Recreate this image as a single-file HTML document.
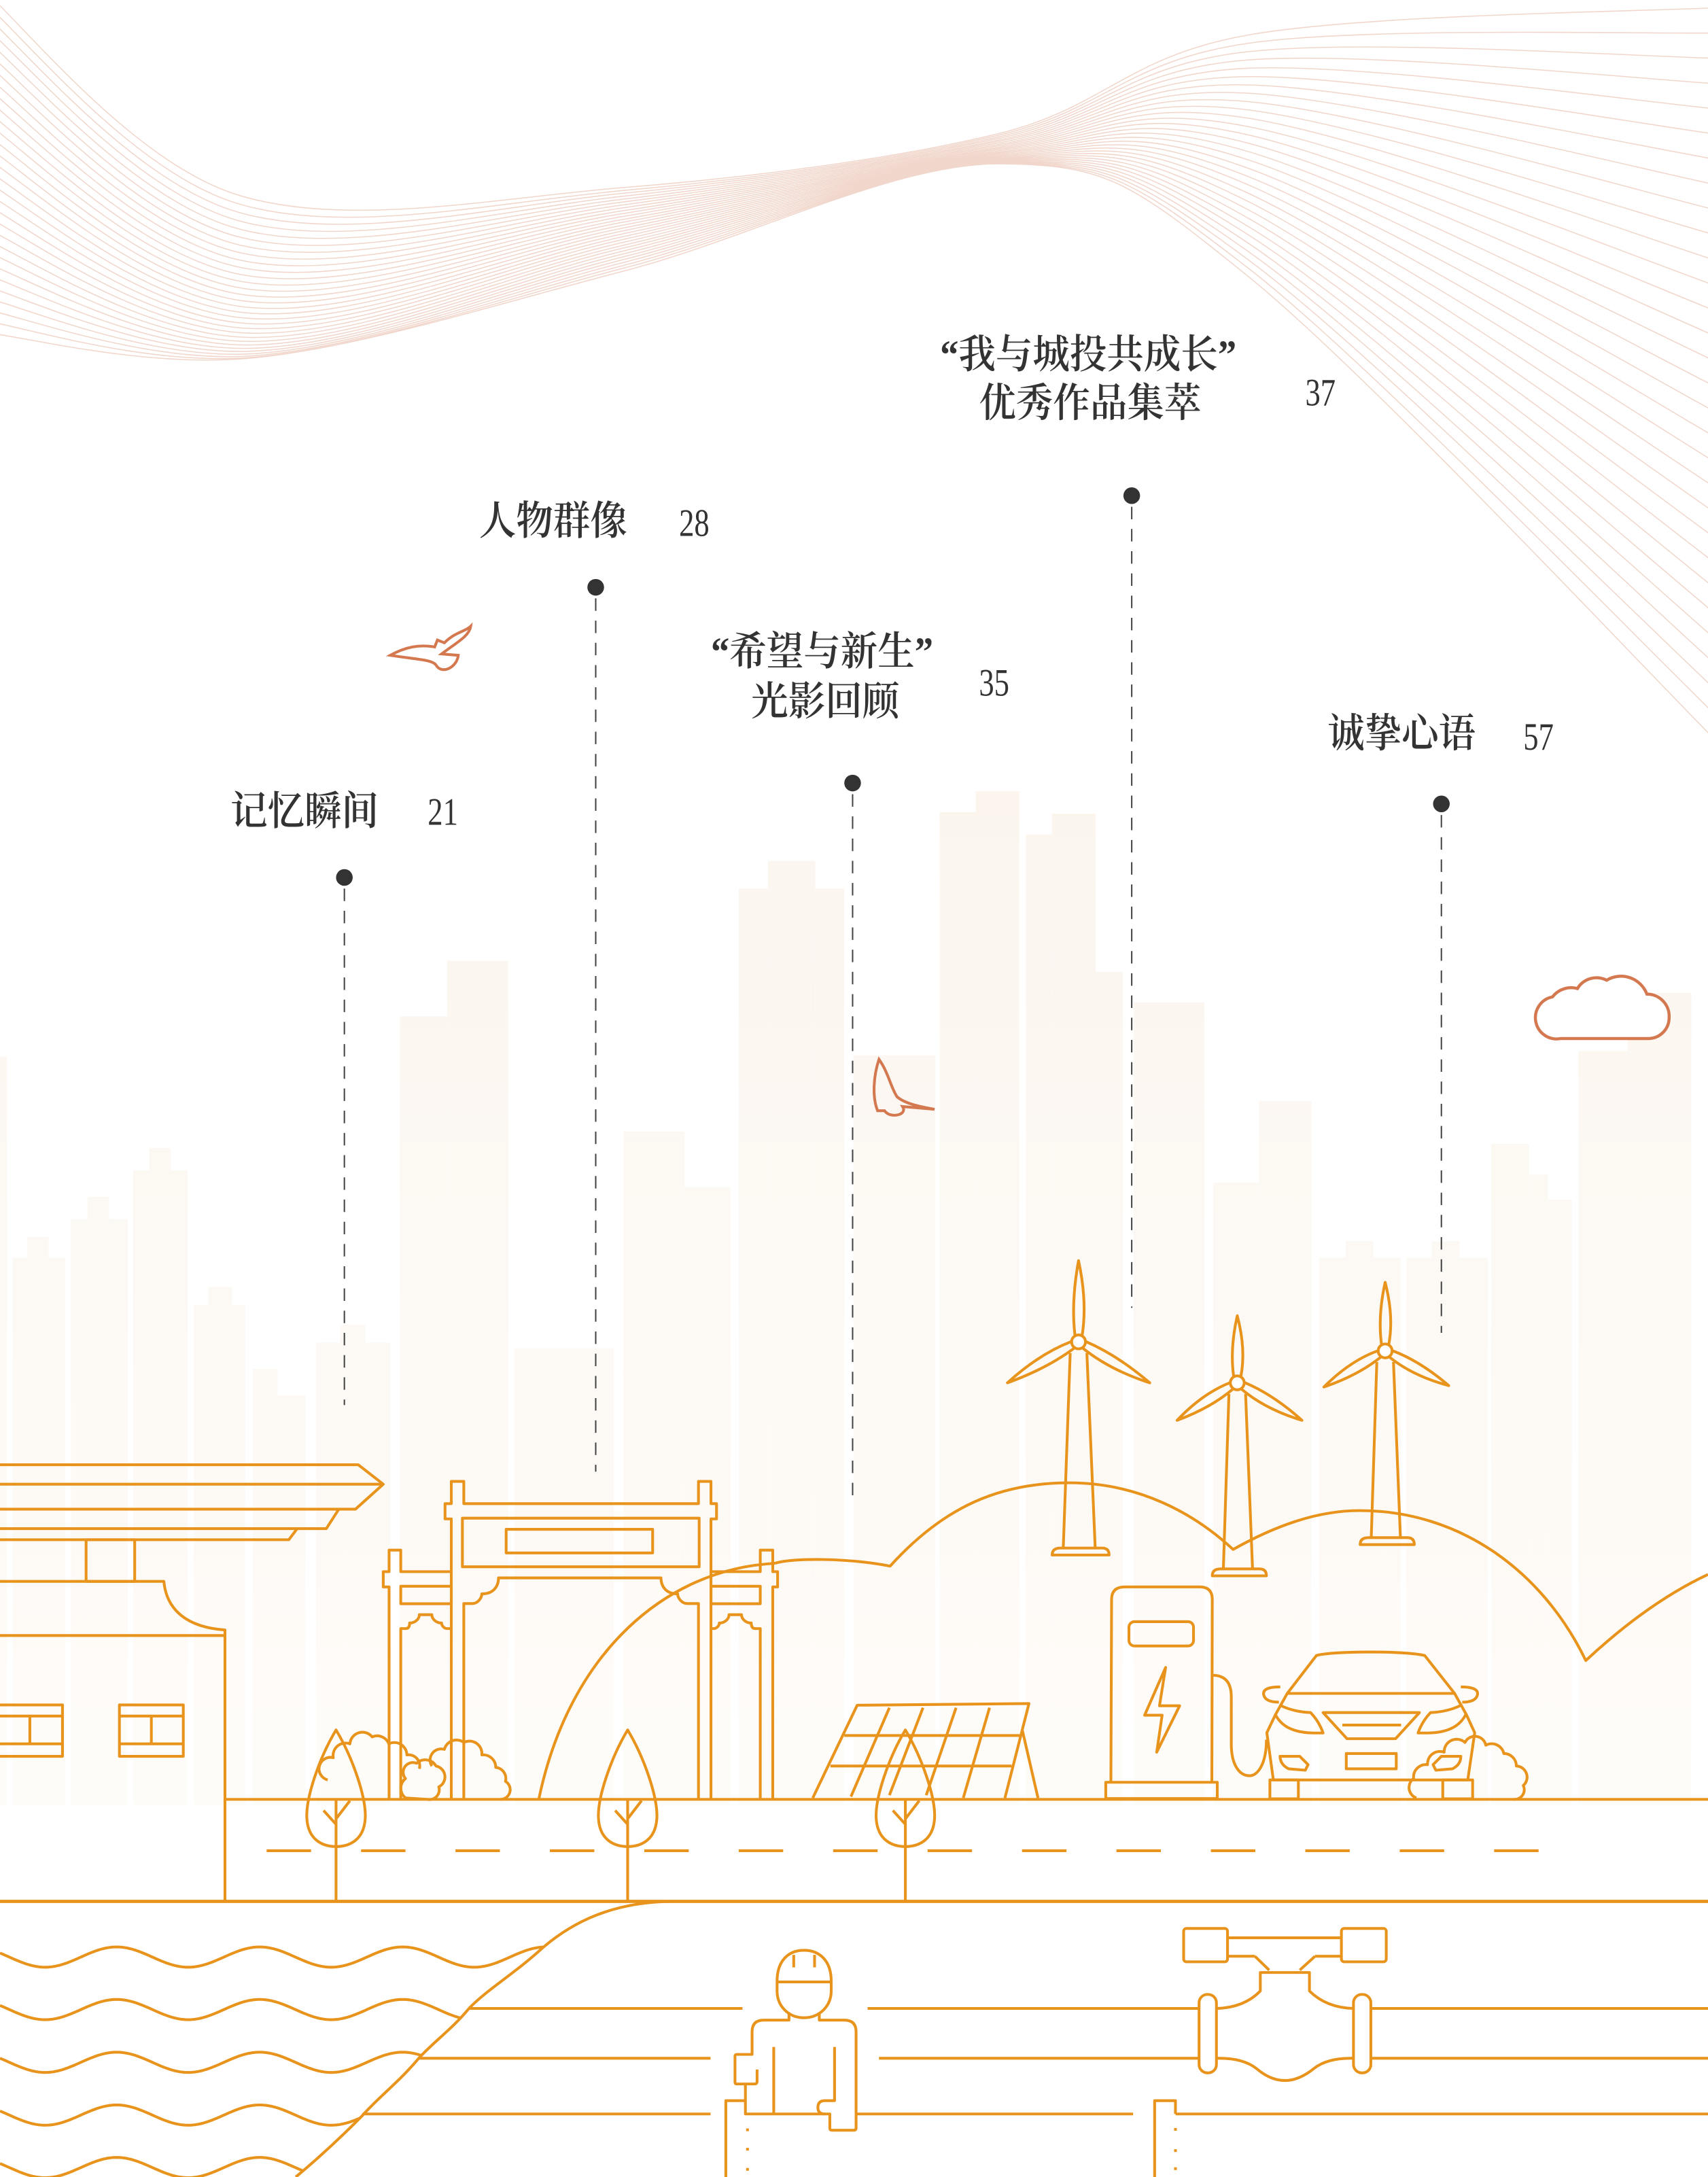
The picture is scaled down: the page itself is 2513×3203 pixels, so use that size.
<!DOCTYPE html>
<html><head><meta charset="utf-8">
<style>
html,body{margin:0;padding:0;background:#fff;}
svg{display:block;}
.t{font-family:"Liberation Serif","Noto Serif CJK SC",serif;fill:#333;font-weight:600;}
.n{font-family:"Liberation Serif",serif;fill:#333;}
</style></head>
<body>
<svg id="s" xmlns="http://www.w3.org/2000/svg" width="2513" height="3203" viewBox="0 0 1230 1568" preserveAspectRatio="none">
<defs>
<linearGradient id="bg" x1="0" y1="560" x2="0" y2="1300" gradientUnits="userSpaceOnUse">
<stop offset="0" stop-color="#FBF5EE"/><stop offset="1" stop-color="#FEFCF9"/>
</linearGradient>
<clipPath id="wc"><path d="M0,1372 L484,1372 C440,1372 410,1385 391,1402 C370,1420 350,1440 338,1446 C322,1462 312,1472 302,1482 C285,1500 272,1512 261,1524 C240,1545 225,1558 213,1568 L0,1568 Z"/></clipPath>
</defs>
<rect width="1230" height="1568" fill="#fff"/>
<g id="topLines" fill="none" stroke="#F1D6CB" stroke-width="0.75"></g>
<g id="bld" fill="url(#bg)"></g>

<path d="M1124,748 A15,15 0 0 1 1118,718 A17,17 0 0 1 1136,712 A16,16 0 0 1 1157,706 A20,20 0 0 1 1186,716 A16,16 0 0 1 1202,733 A15,15 0 0 1 1188,748 Z" fill="#fff" stroke="#D4784F" stroke-width="2.2"/>
<path d="M281,472 C292,466 302,464 313,466 L315,461 L320,463 C328,455 335,455 339,451 C338,458 330,462 318,471 L330,472 C329,481 318,486 314,479 C311,475 300,475 281,472 Z" fill="none" stroke="#D4784F" stroke-width="2"/>
<path d="M633,763 C629,775 628,790 632,800 L637,800 C641,806 654,803 650,797 L673,799 C662,797 652,795 646,790 C641,782 640,773 633,763 Z" fill="none" stroke="#D4784F" stroke-width="2"/>

<g stroke="#444" stroke-width="1" stroke-dasharray="9,7">
<line x1="248" y1="640" x2="248" y2="1012"/>
<line x1="429" y1="431" x2="429" y2="1060"/>
<line x1="614" y1="572" x2="614" y2="1080"/>
<line x1="815" y1="365" x2="815" y2="942"/>
<line x1="1038" y1="587" x2="1038" y2="960"/>
</g>
<g fill="#333">
<circle cx="248" cy="632" r="6"/><circle cx="429" cy="423" r="6"/><circle cx="614" cy="564" r="6"/><circle cx="815" cy="357" r="6"/><circle cx="1038" cy="579" r="6"/>
</g>

<text class="t" font-size="29" transform="translate(166,594) scale(0.92,1)">记忆瞬间</text>
<text class="n" font-size="28" transform="translate(308,594) scale(0.78,1)">21</text>
<text class="t" font-size="29" transform="translate(345,385) scale(0.92,1)">人物群像</text>
<text class="n" font-size="28" transform="translate(489,386) scale(0.78,1)">28</text>
<text class="t" font-size="29" transform="translate(512,479) scale(0.92,1)">“希望与新生”</text>
<text class="t" font-size="29" transform="translate(541,515) scale(0.92,1)">光影回顾</text>
<text class="n" font-size="28" transform="translate(705,501) scale(0.78,1)">35</text>
<text class="t" font-size="29" transform="translate(677,265) scale(0.92,1)">“我与城投共成长”</text>
<text class="t" font-size="29" transform="translate(705,300) scale(0.92,1)">优秀作品集萃</text>
<text class="n" font-size="28" transform="translate(940,292) scale(0.78,1)">37</text>
<text class="t" font-size="29" transform="translate(956,538) scale(0.92,1)">诚挚心语</text>
<text class="n" font-size="28" transform="translate(1097,540) scale(0.78,1)">57</text>

<g id="art" fill="none" stroke="#E8941C" stroke-width="2" stroke-linejoin="round">
<path d="M558,1126 C570,1122 610,1122 641,1128 C680,1085 720,1068 770,1068 C820,1068 860,1090 888,1116 C920,1098 950,1088 979,1088 C1050,1088 1110,1130 1142,1196 C1170,1170 1200,1148 1230,1134"/>
<path d="M388,1296 C410,1190 480,1130 558,1126"/>

<path d="M0,1055 L258,1055 L276,1069 L256,1087 L0,1087"/>
<line x1="0" y1="1069" x2="276" y2="1069"/>
<path d="M244,1087 L235,1101 L0,1101"/>
<path d="M214,1101 L208,1109 L0,1109"/>
<rect x="62" y="1109" width="35" height="30"/>
<path d="M0,1139 L118,1139 C120,1160 135,1172 162,1174 L162,1369"/>
<line x1="0" y1="1178" x2="162" y2="1178"/>
<rect x="-2" y="1228" width="47" height="37"/><line x1="0" y1="1236" x2="45" y2="1236"/><line x1="0" y1="1256" x2="45" y2="1256"/><line x1="21.5" y1="1236" x2="21.5" y2="1256"/>
<rect x="86" y="1228" width="46" height="37"/><line x1="86" y1="1236" x2="132" y2="1236"/><line x1="86" y1="1256" x2="132" y2="1256"/><line x1="109" y1="1236" x2="109" y2="1256"/>

<path d="M325,1296 L325,1094 L320.5,1094 L320.5,1083 L325,1083 L325,1067 L334,1067 L334,1083 L503,1083 L503,1067 L512,1067 L512,1083 L516,1083 L516,1094 L512,1094 L512,1296"/>
<rect x="333" y="1093.5" width="170.5" height="35"/>
<rect x="364.5" y="1101.5" width="105.5" height="17"/>
<path d="M334,1296 L334,1155 L340,1155 C344,1155 347,1151 347,1148 C355,1148 359,1143 359,1136.5 L476,1136.5 C476,1143 480,1148 488,1148 C488,1151 491,1155 495,1155 L503,1155 L503,1296"/>
<path d="M325,1132 L288.6,1132 L288.6,1116.5 L280.2,1116.5 L280.2,1132 L276,1132 L276,1143 L280.2,1143 L280.2,1296"/>
<rect x="288.6" y="1142.5" width="36.4" height="12.6"/>
<path d="M288.6,1296 L288.6,1173 L292,1173 C295,1173 295,1170 295,1169 C299,1169 302,1166 302,1163 L311,1163 C311,1166 314,1169 318,1169 C318,1171 320,1173 322,1173 L325,1173"/>
<path d="M512,1132 L547.5,1132 L547.5,1116.5 L556.5,1116.5 L556.5,1132 L560,1132 L560,1143 L556.5,1143 L556.5,1296"/>
<rect x="512" y="1142.5" width="35.5" height="12.6"/>
<path d="M547.5,1296 L547.5,1173 L544,1173 C541,1173 541,1170 541,1169 C537,1169 534,1166 534,1163 L525,1163 C525,1166 522,1169 518,1169 C518,1171 516,1173 514,1173 L512,1173"/>

<path d="M236,1282 A8,8 0 0 1 240,1266 A9,9 0 0 1 252,1256 A9,9 0 0 1 268,1251 A9,9 0 0 1 280,1256 A9,9 0 0 1 293,1264 A8,8 0 0 1 302,1274"/>
<path d="M292,1295 A9,9 0 0 1 292,1281 A7,7 0 0 1 300,1270 A9,9 0 0 1 314,1272 A8,8 0 0 1 316,1287 A7,7 0 0 1 308,1296 Z"/>
<path d="M311,1272 A8,8 0 0 1 320,1260 A9,9 0 0 1 334,1255 A9,9 0 0 1 347,1264 A9,9 0 0 1 357,1273 A8,8 0 0 1 364,1283 A7,7 0 0 1 360,1296"/>
<path d="M1020,1295 A8,8 0 0 1 1018,1281 A9,9 0 0 1 1028,1271 A9,9 0 0 1 1040,1262 A9,9 0 0 1 1055,1255 A8,8 0 0 1 1070,1257 A9,9 0 0 1 1083,1263 A9,9 0 0 1 1092,1272 A8,8 0 0 1 1097,1286 A7,7 0 0 1 1090,1296"/>

<path d="M585.3,1295 L617.3,1228.2 L741,1227 L723.7,1295"/>
<line x1="736.3" y1="1246.5" x2="747.5" y2="1295"/>
<line x1="608" y1="1250" x2="734.3" y2="1250"/>
<line x1="598" y1="1272" x2="728.5" y2="1272"/>
<line x1="640.5" y1="1230" x2="612.8" y2="1294"/>
<line x1="664.7" y1="1230" x2="640.5" y2="1293"/>
<line x1="688.5" y1="1230" x2="667" y2="1293"/>
<line x1="712.6" y1="1230" x2="693.7" y2="1295"/>

<path d="M800,1283.7 L800.5,1152 Q800.5,1143 810,1143 L864,1143 Q873,1143 873,1152 L872.7,1283.7"/>
<rect x="813" y="1168" width="46.5" height="17.5" rx="4"/>
<path d="M839.4,1201 L824.3,1235.4 L836.9,1235.4 L833,1262 L849.5,1228.6 L835,1228.6 Z"/>
<rect x="796.3" y="1283.7" width="80.3" height="11.7"/>
<path d="M873,1206.6 Q886.7,1206.6 886.7,1222 L886.7,1256 C886.7,1272 893,1279 899.8,1279 C906,1279 912,1270 912,1253"/>

<path d="M948,1192.4 C960,1189 1012,1189 1026,1192.4 L1047.5,1219.7 L1056,1235 L1062,1248 L1057,1282 L917,1282 L912.3,1248 L918.5,1235 L927,1219.7 Z"/>
<line x1="927" y1="1219.7" x2="1047.5" y2="1219.7"/>
<path d="M922,1215 Q909,1215 910,1220.5 Q911,1226 921,1226"/>
<path d="M1052,1215 Q1065,1215 1064,1220.5 Q1063,1226 1053,1226"/>
<path d="M922.6,1228.6 Q932,1233 943.8,1233.5 Q950,1240 952.8,1248.2 L946,1248.2 Q925,1248 918.5,1235"/>
<path d="M1051.4,1228.6 Q1042,1233 1030.2,1233.5 Q1024,1240 1021.2,1248.2 L1028,1248.2 Q1049,1248 1055.5,1235"/>
<path d="M952.8,1233.5 L1022.2,1233.5 L1005,1252.3 L970,1252.3 Z"/>
<line x1="966.7" y1="1242.5" x2="1009" y2="1242.5"/>
<rect x="969.5" y="1263" width="36" height="11"/>
<path d="M921.8,1265 L936,1265 L942,1271 L940,1275 L928,1274 Q922,1271 921.8,1265 Z"/>
<path d="M1052,1265 L1038,1265 L1032,1271 L1034,1275 L1046,1274 Q1052,1271 1052,1265 Z"/>
<rect x="914.5" y="1282" width="20.5" height="13.6"/>
<rect x="1039" y="1282" width="21.5" height="13.6"/>

<g id="trees"></g>
<g id="turbines"></g>

<line x1="162" y1="1296" x2="1230" y2="1296"/>
<line x1="0" y1="1369.5" x2="1230" y2="1369.5" stroke-width="2.3"/>
<line x1="192" y1="1333" x2="1110" y2="1333" stroke-dasharray="32,36"/>

<g id="waves" clip-path="url(#wc)"></g>
<path d="M484,1369.5 C440,1370 412,1385 391.5,1402.3 C370,1422 352,1432 338,1446.3 C325,1462 313,1470 302,1482 C287,1500 273,1510 261,1523.7 C240,1545 225,1558 213,1568"/>
<line x1="338" y1="1446.6" x2="534.7" y2="1446.6"/>
<line x1="302" y1="1482.5" x2="511.7" y2="1482.5"/>
<line x1="261" y1="1522.6" x2="511.7" y2="1522.6"/>
<line x1="624.8" y1="1446.6" x2="863.5" y2="1446.6"/>
<line x1="987" y1="1446.6" x2="1230" y2="1446.6"/>
<line x1="633" y1="1482.5" x2="863.5" y2="1482.5"/>
<line x1="987" y1="1482.5" x2="1230" y2="1482.5"/>
<line x1="616.5" y1="1522.6" x2="816" y2="1522.6"/>
<line x1="846.5" y1="1522.6" x2="1230" y2="1522.6"/>
<rect x="863.5" y="1436.5" width="12.5" height="56.5" rx="6"/>
<rect x="974.7" y="1436.5" width="12.5" height="56.5" rx="6"/>
<path d="M876,1446.6 Q896,1446 907.6,1434 L907.6,1420.7 L943,1420.7 L943,1434 Q955,1446 974.7,1446.6"/>
<path d="M876,1482.5 Q895,1482 905,1490 Q925,1507 946,1490 Q956,1482 974.7,1482.5"/>
<rect x="852.4" y="1389" width="31.6" height="24" rx="2"/>
<rect x="966" y="1389" width="32.3" height="24" rx="2"/>
<line x1="884" y1="1395.7" x2="966" y2="1395.7"/>
<line x1="884" y1="1409" x2="903.7" y2="1409"/><line x1="947" y1="1409" x2="966" y2="1409"/>
<line x1="903.7" y1="1409" x2="914" y2="1419"/><line x1="947" y1="1409" x2="936" y2="1419"/>
<path d="M831.5,1568 L831.5,1513 L846.5,1513 L846.5,1522.6"/>
<g stroke="none" fill="#E8941C"><rect x="845.5" y="1532.7" width="2" height="2"/><rect x="845.5" y="1548" width="2" height="2"/><rect x="845.5" y="1561" width="2" height="2"/>
<rect x="537.3" y="1533" width="2" height="2"/><rect x="537.3" y="1547" width="2" height="2"/><rect x="537.3" y="1561.5" width="2" height="2"/></g>
<path d="M559.6,1427 C559.6,1412 568,1404.7 579,1404.7 C590,1404.7 598.6,1412 598.6,1427 L598.6,1434 C598.6,1445 590,1453.3 579,1453.3 C568,1453.3 559.6,1445 559.6,1434 Z"/>
<line x1="559.6" y1="1427.5" x2="598.6" y2="1427.5"/>
<line x1="571.6" y1="1408" x2="571.6" y2="1417"/><line x1="586.6" y1="1408" x2="586.6" y2="1417"/>
<path d="M568.2,1449.5 L568.2,1455 L550,1455 Q541.6,1455 541.6,1463.4 L541.6,1479.7 L530.5,1479.7 Q529.3,1479.7 529.3,1481 L529.3,1499.5 Q529.3,1501 530.5,1501 L543.5,1501 Q545.2,1501 545.2,1499 L545.2,1490.6"/>
<path d="M536.8,1501 L536.8,1522.6 L597.6,1522.6 L597.6,1533 Q597.6,1534.3 599,1534.3 L615,1534.3 Q616.5,1534.3 616.5,1532.5 L616.5,1463.4 Q616.5,1455 608,1455 L590,1455 L590,1449.5"/>
<path d="M601,1474.3 L601,1513 L593.9,1513 Q589,1513 589,1518 Q589,1522.6 594,1522.6"/>
<line x1="557.2" y1="1474.3" x2="557.2" y2="1522.6"/>
<path d="M522.7,1568 L522.7,1513 L536.8,1513"/>
</g>
</svg>
<script>
(function(){
var NS="http://www.w3.org/2000/svg";
function el(p,tag,a){var e=document.createElementNS(NS,tag);for(var k in a)e.setAttribute(k,a[k]);p.appendChild(e);return e;}
function cr(pts){var d="M"+pts[0][0].toFixed(1)+","+pts[0][1].toFixed(1);for(var i=0;i<pts.length-1;i++){var p0=pts[i-1]||pts[i],p1=pts[i],p2=pts[i+1],p3=pts[i+2]||p2;
var c1=[p1[0]+(p2[0]-p0[0])/6,p1[1]+(p2[1]-p0[1])/6],c2=[p2[0]-(p3[0]-p1[0])/6,p2[1]-(p3[1]-p1[1])/6];
d+=" C"+c1[0].toFixed(1)+","+c1[1].toFixed(1)+" "+c2[0].toFixed(1)+","+c2[1].toFixed(1)+" "+p2[0].toFixed(1)+","+p2[1].toFixed(1);}return d;}
var tl=document.getElementById("topLines");var N=30;
var A=[[-20,238],[180,258],[450,195],[720,118],[900,200],[1250,548]];
var Bt=[[-20,-15],[170,140],[450,135],[720,96],[900,25],[1250,5]];
for(var i=0;i<N;i++){var t=i/(N-1);var pts=[];
for(var j=0;j<A.length;j++){var s=(j==1||j==3)?Math.pow(t,1.6):t;pts.push([A[j][0]+(Bt[j][0]-A[j][0])*s,A[j][1]+(Bt[j][1]-A[j][1])*s]);}
el(tl,"path",{d:cr(pts)});}
var B=[[0,761,5],[9,906,47],[19.6,891,35],[51,878,92],[63,862,78.5],[95.8,843,135],[107.5,827,123],[139.7,940,176.6],[150,927,167],[182,1005,220],[182,986,200],[227.6,967,281],[245,954,263],[288,732,322],[322,692,366],[370.5,971,442],[449,815,493],[493,855,526],[532,640,553],[553,620,587],[587,640,608],[614.6,760,673.5],[676.7,585,702.6],[702.6,570,734],[738.7,601,757.5],[757.5,586,789],[789,700,808.6],[816.4,722,867.4],[873.7,852,906.7],[906.7,793,944.4],[950,906,1008.7],[969,894,989],[1012.7,906,1071.5],[1031,894,1051],[1073.9,824,1101],[1101,846,1114.7],[1114.7,864,1132],[1136.7,757,1172],[1172,715,1218]];
var bg=document.getElementById("bld");
B.forEach(function(b){el(bg,"rect",{x:b[0],y:b[1],width:b[2]-b[0],height:1300-b[1]});});
var tr=document.getElementById("trees");
[242,452,652].forEach(function(cx){
el(tr,"path",{d:"M"+cx+",1246 C"+(cx-12)+",1266 "+(cx-22)+",1295 "+(cx-21)+",1310 C"+(cx-20)+",1325 "+(cx-10)+",1330 "+cx+",1330 C"+(cx+10)+",1330 "+(cx+20)+",1325 "+(cx+21)+",1310 C"+(cx+22)+",1295 "+(cx+12)+",1266 "+cx+",1246 Z"});
el(tr,"line",{x1:cx,y1:1296,x2:cx,y2:1369});
el(tr,"path",{d:"M"+(cx-9)+",1304 L"+cx+",1314 M"+(cx+10)+",1297 L"+cx+",1310"});
});
var tb=document.getElementById("turbines");
function leaf(x1,y1,x2,y2,w){var dx=x2-x1,dy=y2-y1,L=Math.hypot(dx,dy),nx=-dy/L,ny=dx/L;
var mx=x1+dx*0.45,my=y1+dy*0.45;
return "M"+(x1+nx*w*0.5).toFixed(1)+","+(y1+ny*w*0.5).toFixed(1)+" Q"+(mx+nx*w*1.3).toFixed(1)+","+(my+ny*w*1.3).toFixed(1)+" "+x2.toFixed(1)+","+y2.toFixed(1)+" Q"+(mx-nx*w*1.1).toFixed(1)+","+(my-ny*w*1.1).toFixed(1)+" "+(x1-nx*w*0.5).toFixed(1)+","+(y1-ny*w*0.5).toFixed(1)+" Z";}
[[776.7,966.5,908,725.5,996,828,996,1115,11],[891,996,947.7,847.7,1023,937.6,1023,1130,10],[997.5,973,923.6,953.4,999,1043.3,998,1107.5,10]].forEach(function(T){
var hx=T[0],hy=T[1];
el(tb,"path",{d:"M"+(hx-6)+","+(hy+8)+" L"+(hx-T[8])+","+T[7]+" M"+(hx+6)+","+(hy+8)+" L"+(hx+T[8]+1)+","+T[7]});
el(tb,"path",{d:"M"+(hx-T[8]-8)+","+(T[7]+5)+" Q"+(hx-T[8]-8)+","+T[7]+" "+(hx-T[8]-2)+","+T[7]+" L"+(hx+T[8]+6)+","+T[7]+" Q"+(hx+T[8]+11)+","+T[7]+" "+(hx+T[8]+11)+","+(T[7]+5)+" Z"});
el(tb,"path",{d:leaf(hx,hy-4,hx,T[2],5)});
el(tb,"path",{d:leaf(hx-4,hy+2,T[3],T[4],5)});
el(tb,"path",{d:leaf(hx+4,hy+2,T[5],T[6],5)});
el(tb,"circle",{cx:hx,cy:hy,r:5,fill:"#fff"});
});
var wv=document.getElementById("waves");
[1409.6,1447.4,1485.4,1523.4,1561.2].forEach(function(c){
var d="";for(var x=0;x<=500;x+=2){var y=c-7.3*Math.cos(2*Math.PI*(x-84)/103);d+=(x?" L":"M")+x+","+y.toFixed(2);}
el(wv,"path",{d:d});});
})();
</script>
</body></html>
